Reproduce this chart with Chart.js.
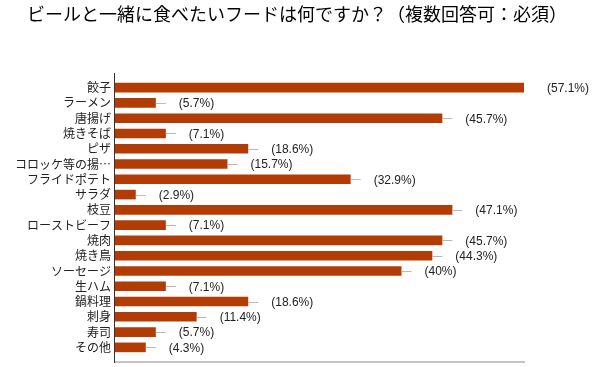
<!DOCTYPE html>
<html>
<head>
<meta charset="utf-8">
<script src="https://cdn.jsdelivr.net/npm/chart.js@4"></script>
<style>
  body { margin: 0; background: #fff; }
  #wrap { width: 600px; height: 367px; }
</style>
</head>
<body>
<div id="wrap"><canvas id="chart"></canvas></div>
<script>
const titleText = 'ビールと一緒に食べたいフードは何ですか？（複数回答可：必須）';
const foods = ['餃子', 'ラーメン', '唐揚げ', '焼きそば', 'ピザ', 'コロッケ等の揚…', 'フライドポテト', 'サラダ', '枝豆',
  'ローストビーフ', '焼肉', '焼き鳥', 'ソーセージ', '生ハム', '鍋料理', '刺身', '寿司', 'その他'];
const percents = [57.1, 5.7, 45.7, 7.1, 18.6, 15.7, 32.9, 2.9, 47.1, 7.1, 45.7, 44.3, 40, 7.1, 18.6, 11.4, 5.7, 4.3];
const xMax = 57.1;

const jpFont = '"Noto Sans CJK JP", "Noto Sans", sans-serif';
const numFont = '"Liberation Sans", Arial, sans-serif';

// title centred on the page, whiskers, value labels and the two axis lines
const extras = {
  id: 'extras',
  afterDatasetsDraw(chart) {
    const ctx = chart.ctx;
    const area = chart.chartArea;
    const bars = chart.getDatasetMeta(0).data;
    ctx.save();
    ctx.fillStyle = '#000';
    ctx.font = '18px ' + jpFont;
    ctx.textAlign = 'center';
    ctx.textBaseline = 'middle';
    ctx.fillText(titleText, chart.width / 2 - 3, 14);

    bars.forEach((bar, i) => {
      if (percents[i] < xMax) {
        ctx.strokeStyle = '#b8b8b8';
        ctx.lineWidth = 1;
        ctx.beginPath();
        ctx.moveTo(bar.x, Math.round(bar.y) + 0.5);
        ctx.lineTo(bar.x + 10, Math.round(bar.y) + 0.5);
        ctx.stroke();
      }
      ctx.fillStyle = '#222';
      ctx.font = '12px ' + numFont;
      ctx.textAlign = 'left';
      ctx.textBaseline = 'middle';
      ctx.fillText('(' + percents[i] + '%)', bar.x + 23, bar.y + 1);
    });
    // bottom axis
    ctx.fillStyle = '#c4c4c4';
    ctx.fillRect(area.left, area.bottom + 6, area.right - area.left + 1, 2);
    // left axis
    ctx.strokeStyle = '#333';
    ctx.lineWidth = 1;
    ctx.beginPath();
    ctx.moveTo(area.left - 0.5, area.top - 7);
    ctx.lineTo(area.left - 0.5, area.bottom + 8);
    ctx.stroke();
    ctx.restore();
  }
};

new Chart(document.getElementById('chart'), {
  type: 'bar',
  data: {
    labels: foods,
    datasets: [{
      data: percents,
      backgroundColor: '#b23c06',
      barPercentage: 0.63,
      categoryPercentage: 1
    }]
  },
  options: {
    indexAxis: 'y',
    responsive: true,
    maintainAspectRatio: false,
    animation: false,
    layout: { padding: { left: 0, right: 76, top: 80, bottom: 12 } },
    plugins: {
      legend: { display: false },
      tooltip: { enabled: false },
      title: { display: false }
    },
    scales: {
      x: {
        display: false,
        min: 0,
        max: xMax
      },
      y: {
        grid: { display: false, drawTicks: false },
        border: { display: false },
        afterFit(scale) { scale.width = 115; },
        ticks: {
          color: '#222',
          padding: 4,
          font: { family: jpFont, size: 12 },
          autoSkip: false
        }
      }
    }
  },
  plugins: [extras]
});
</script>
</body>
</html>
